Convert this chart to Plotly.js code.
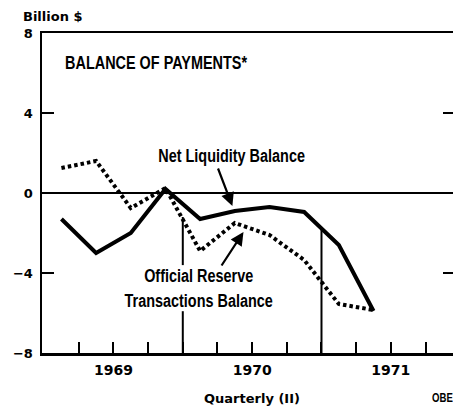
<!DOCTYPE html>
<html>
<head>
<meta charset="utf-8">
<script src="https://cdn.plot.ly/plotly-3.0.1.min.js"></script>
<style>
  html, body { margin: 0; padding: 0; overflow: hidden; background: #fff; }
  #chart { width: 462px; height: 406px; }
</style>
</head>
<body>
<div id="chart"></div>
<script>
// ---- Data (billion $, quarterly, seasonally adjusted) ----
const quarters = ["1969 I", "1969 II", "1969 III", "1969 IV",
                  "1970 I", "1970 II", "1970 III", "1970 IV",
                  "1971 I", "1971 II"];
const netLiquidity    = [-1.3, -3.0, -2.0, 0.2, -1.3, -0.9, -0.7, -0.95, -2.6, -5.9];
const officialReserve = [1.25, 1.6, -0.75, 0.25, -2.9, -1.5, -2.1, -3.35, -5.55, -5.85];
const yearLabels = ["1969", "1970", "1971"];
const yTickValues = [-8, -4, 0, 4, 8];
// year-boundary divider lines: x (in quarters from start of 1969) and the value where each starts
const dividerQuarter = [4, 8];
const dividerTop = [-1.2, -1.75];

const condensed = '"Liberation Sans", Arial, sans-serif';
const geo = '"DejaVu Sans", Verdana, sans-serif';
const narrowScale = 0.76;   // horizontal squeeze to mimic a condensed typeface

const xPos = quarters.map((q, i) => i + 0.5);

// quarter boundary ticks with year labels centred in each year
const tickVals = [], tickText = [];
for (let q = 1; q <= 11; q++) {
  tickVals.push(q);
  const y = Math.floor(q / 4);
  tickText.push(q % 4 === 2 ? yearLabels[y] : "");
}

const traces = [
  {
    x: xPos, y: officialReserve, type: "scatter", mode: "lines",
    line: { color: "#000", width: 4, dash: "3.5px,3px" },
    hoverinfo: "skip", showlegend: false
  },
  {
    x: xPos, y: netLiquidity, type: "scatter", mode: "lines",
    line: { color: "#000", width: 4 },
    hoverinfo: "skip", showlegend: false
  }
];

const shapes = [
  { type: "line", xref: "paper", x0: 0, x1: 1, yref: "y", y0: 0, y1: 0,
    line: { color: "#000", width: 2 } }
];
dividerQuarter.forEach((q, i) => {
  shapes.push({ type: "line", xref: "x", x0: q, x1: q, yref: "y", y0: -8, y1: dividerTop[i],
    line: { color: "#000", width: 2 } });
});

const annFont = { family: condensed, size: 19, color: "#000", weight: "bold" };
const annotations = [
  { text: "<b>Billion $</b>", xref: "paper", yref: "paper", x: -0.05, y: 1.0,
    xanchor: "left", yanchor: "bottom", yshift: 7, showarrow: false,
    font: { family: geo, size: 13, color: "#000" } },
  { text: "<b>BALANCE OF PAYMENTS*</b>", xref: "x", yref: "y", x: 0.55, y: 6.55,
    xanchor: "left", yanchor: "middle", showarrow: false, font: annFont },
  { text: "<b>Net Liquidity Balance</b>", xref: "x", yref: "y", x: 5.4, y: 1.9,
    xanchor: "center", yanchor: "middle", showarrow: false, font: annFont },
  { text: "<b>Official Reserve<br>Transactions Balance</b>", xref: "x", yref: "y", x: 4.45, y: -4.75,
    xanchor: "center", yanchor: "middle", showarrow: false, font: annFont,
    bgcolor: "rgba(255,255,255,0)" },
  // arrows
  { text: "", xref: "x", yref: "y", axref: "x", ayref: "y",
    x: 5.43, y: -0.65, ax: 5.0, ay: 1.3, showarrow: true,
    arrowhead: 2, arrowsize: 1.2, arrowwidth: 2.2, arrowcolor: "#000", standoff: 0 },
  { text: "", xref: "x", yref: "y", axref: "x", ayref: "y",
    x: 5.75, y: -1.95, ax: 5.09, ay: -3.7, showarrow: true,
    arrowhead: 2, arrowsize: 1.2, arrowwidth: 2.2, arrowcolor: "#000", standoff: 0 },
  { text: "<b>Quarterly (II)</b>", xref: "x", yref: "paper", x: 6, y: 0,
    xanchor: "center", yanchor: "middle", yshift: -45, showarrow: false,
    font: { family: geo, size: 13, color: "#000" } },
  { text: "<b>OBE</b>", xref: "paper", yref: "paper", x: 0.94, y: 0,
    xanchor: "left", yanchor: "middle", yshift: -45, showarrow: false,
    font: { family: condensed, size: 12, color: "#000" } }
];

const layout = {
  width: 462, height: 406,
  margin: { l: 42, r: 7, t: 33, b: 53 },
  paper_bgcolor: "#fff", plot_bgcolor: "#fff",
  showlegend: false,
  xaxis: {
    range: [-0.06, 11.85],
    tickvals: tickVals, ticktext: tickText,
    ticks: "inside", ticklen: 11, tickwidth: 2, tickcolor: "#000",
    showline: true, linecolor: "#000", linewidth: 2.5, mirror: true,
    showgrid: false, zeroline: false,
    tickfont: { family: geo, size: 14, color: "#000", weight: "bold" },
    ticklabelstandoff: 3
  },
  yaxis: {
    range: [-8, 8],
    tickvals: yTickValues,
    ticks: "inside", ticklen: 12, tickwidth: 2, tickcolor: "#000",
    showline: true, linecolor: "#000", linewidth: 2.5, mirror: "ticks",
    showgrid: false, zeroline: false,
    tickfont: { family: geo, size: 13, color: "#000", weight: "bold" },
    ticklabelstandoff: 4
  },
  shapes: shapes,
  annotations: annotations
};

// squeeze the condensed-style annotation texts horizontally around their anchor
function squeeze(index, scale, anchor) {
  const t = document.querySelector('g.annotation[data-index="' + index + '"] text.annotation-text');
  if (!t) return;
  const b = t.getBBox();
  const cx = anchor === "left" ? b.x : b.x + b.width / 2;
  t.setAttribute("transform", "translate(" + cx + ",0) scale(" + scale + ",1) translate(" + (-cx) + ",0)");
}

Plotly.newPlot("chart", traces, layout, { staticPlot: true, displayModeBar: false }).then(() => {
  squeeze(1, narrowScale, "left");
  squeeze(2, narrowScale, "center");
  squeeze(3, narrowScale, "center");
  squeeze(7, 0.8, "left");
  // white backing under the two-line label so the divider line is interrupted like the original
  const g = document.querySelector('g.annotation[data-index="3"] text.annotation-text');
  if (g) {
    const b = g.getBBox();
    const cx = b.x + b.width / 2, w = b.width * narrowScale;
    const r = document.createElementNS("http://www.w3.org/2000/svg", "rect");
    r.setAttribute("x", cx - w / 2 - 2); r.setAttribute("y", b.y);
    r.setAttribute("width", w + 4); r.setAttribute("height", b.height);
    r.setAttribute("fill", "#fff");
    g.parentNode.insertBefore(r, g);
  }
});
</script>
</body>
</html>
